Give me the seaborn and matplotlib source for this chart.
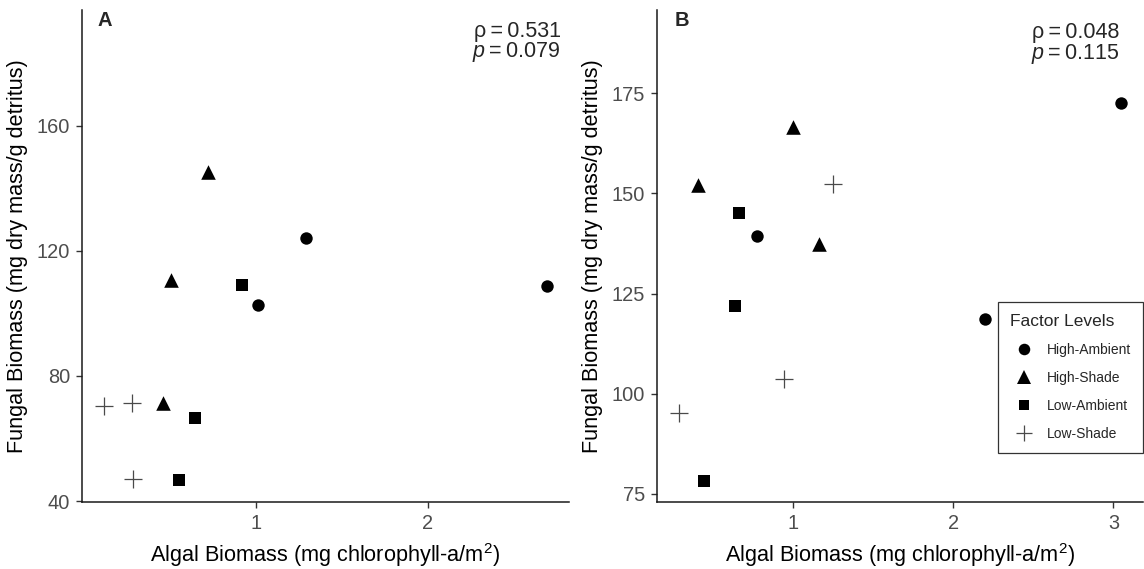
import numpy as np
import pandas as pd
import matplotlib
matplotlib.use("Agg")
import matplotlib.pyplot as plt
import seaborn as sns
from matplotlib.lines import Line2D

# ---------------- data ----------------
levels = ["High-Ambient", "High-Shade", "Low-Ambient", "Low-Shade"]

# Panel A
a_high_ambient_x = [1.014, 1.289, 2.693]
a_high_ambient_y = [102.7, 124.1, 108.7]
a_high_shade_x = [0.456, 0.507, 0.720]
a_high_shade_y = [71.2, 110.8, 145.3]
a_low_ambient_x = [0.550, 0.643, 0.920]
a_low_ambient_y = [46.8, 66.6, 109.0]
a_low_shade_x = [0.113, 0.278, 0.285]
a_low_shade_y = [70.5, 71.2, 47.2]

# Panel B
b_high_ambient_x = [0.771, 2.196, 3.049]
b_high_ambient_y = [139.5, 118.7, 172.5]
b_high_shade_x = [0.404, 0.996, 1.162]
b_high_shade_y = [152.0, 166.7, 137.5]
b_low_ambient_x = [0.440, 0.634, 0.661]
b_low_ambient_y = [78.3, 121.8, 145.1]
b_low_shade_x = [0.285, 0.942, 1.249]
b_low_shade_y = [95.1, 103.7, 152.3]

a_stats = ["\u03c1\u2009=\u20090.531", "$p$\u2009=\u20090.079"]
b_stats = ["\u03c1\u2009=\u20090.048", "$p$\u2009=\u20090.115"]

a_xticks = [1, 2]
a_yticks = [40, 80, 120, 160]
b_xticks = [1, 2, 3]
b_yticks = [75, 100, 125, 150, 175]

xlabel = "Algal Biomass (mg chlorophyll-a/m$^{2}$)"
ylabel = "Fungal Biomass (mg dry mass/g detritus)"


def make_df(hax, hay, hsx, hsy, lax, lay, lsx, lsy):
    rows = []
    for lev, xs, ys in zip(levels, [hax, hsx, lax, lsx], [hay, hsy, lay, lsy]):
        for x, y in zip(xs, ys):
            rows.append({"algal": x, "fungal": y, "Factor": lev})
    return pd.DataFrame(rows)


df_a = make_df(a_high_ambient_x, a_high_ambient_y, a_high_shade_x, a_high_shade_y,
               a_low_ambient_x, a_low_ambient_y, a_low_shade_x, a_low_shade_y)
df_b = make_df(b_high_ambient_x, b_high_ambient_y, b_high_shade_x, b_high_shade_y,
               b_low_ambient_x, b_low_ambient_y, b_low_shade_x, b_low_shade_y)

# ---------------- style ----------------
sns.set_theme(style="ticks")
plt.rcParams["font.family"] = ["Liberation Sans", "DejaVu Sans"]
plt.rcParams["mathtext.fontset"] = "custom"
plt.rcParams["mathtext.rm"] = "Liberation Sans"
plt.rcParams["mathtext.it"] = "Liberation Sans:italic"
plt.rcParams["mathtext.bf"] = "Liberation Sans:bold"

marker_spec = {
    "High-Ambient": dict(marker="o", s=80),
    "High-Shade": dict(marker="^", s=110),
    "Low-Ambient": dict(marker="s", s=72),
}

fig = plt.figure(figsize=(11.44, 5.69), dpi=100)
ax_a = fig.add_axes([0.0714, 0.1178, 0.4258, 0.8646])
ax_b = fig.add_axes([0.5740, 0.1178, 0.4255, 0.8646])


def draw(ax, df, xlim, ylim, xticks, yticks, panel, stats, stat_x, stat_y, panel_xy):
    for lev in levels[:3]:
        sub = df[df["Factor"] == lev]
        sns.scatterplot(data=sub, x="algal", y="fungal", color="black",
                        linewidth=0, legend=False, ax=ax, zorder=3,
                        **marker_spec[lev])
    sub = df[df["Factor"] == "Low-Shade"]
    sns.scatterplot(data=sub, x="algal", y="fungal", marker="+", s=170,
                    color="#4a4a4a", linewidth=0.9, legend=False, ax=ax, zorder=3)

    ax.set_xlim(*xlim)
    ax.set_ylim(*ylim)
    ax.set_xticks(xticks)
    ax.set_yticks(yticks)
    ax.set_xticklabels([str(t) for t in xticks])
    ax.set_yticklabels([str(t) for t in yticks])
    for s in ["top", "right"]:
        ax.spines[s].set_visible(False)
    for s in ["left", "bottom"]:
        ax.spines[s].set_linewidth(1.1)
        ax.spines[s].set_color("#1a1a1a")
    ax.tick_params(axis="both", length=4, width=1.0, color="#333333",
                   labelsize=14.4, labelcolor="#4d4d4d", pad=4.5)
    ax.set_xlabel(xlabel, fontsize=15.6, color="black", labelpad=6)
    ax.set_ylabel(ylabel, fontsize=15.6, color="black", labelpad=6)
    ax.text(panel_xy[0], panel_xy[1], panel, transform=ax.transAxes,
            fontsize=14.5, fontweight="bold", ha="center", va="center")
    ax.text(stat_x, stat_y[0], stats[0], transform=ax.transAxes,
            fontsize=15.5, ha="right", va="center")
    ax.text(stat_x, stat_y[1], stats[1], transform=ax.transAxes,
            fontsize=15.5, ha="right", va="center")


draw(ax_a, df_a, (-0.016, 2.822), (39.7, 197.0), a_xticks, a_yticks, "A",
     a_stats, 0.983, (0.957, 0.914), (0.048, 0.979))
draw(ax_b, df_b, (0.147, 3.187), (73.0, 195.8), b_xticks, b_yticks, "B",
     b_stats, 0.950, (0.954, 0.911), (0.052, 0.979))

handles = [
    Line2D([], [], ls="", marker="o", color="black", markersize=8.3, markeredgewidth=0),
    Line2D([], [], ls="", marker="^", color="black", markersize=9.5, markeredgewidth=0),
    Line2D([], [], ls="", marker="s", color="black", markersize=7.8, markeredgewidth=0),
    Line2D([], [], ls="", marker="+", color="#4a4a4a", markersize=12, markeredgewidth=0.9),
]
leg = ax_b.legend(handles, levels, title="Factor Levels", loc="upper left",
                  bbox_to_anchor=(0.7008, 0.4070), frameon=True, fancybox=False,
                  edgecolor="#333333", framealpha=1, fontsize=10, title_fontsize=12.5,
                  alignment="left", handlelength=2.0, handletextpad=0.6,
                  borderpad=0.9, labelspacing=1.0, borderaxespad=0)
leg.get_frame().set_linewidth(0.9)

fig.savefig("out.png", dpi=100)
